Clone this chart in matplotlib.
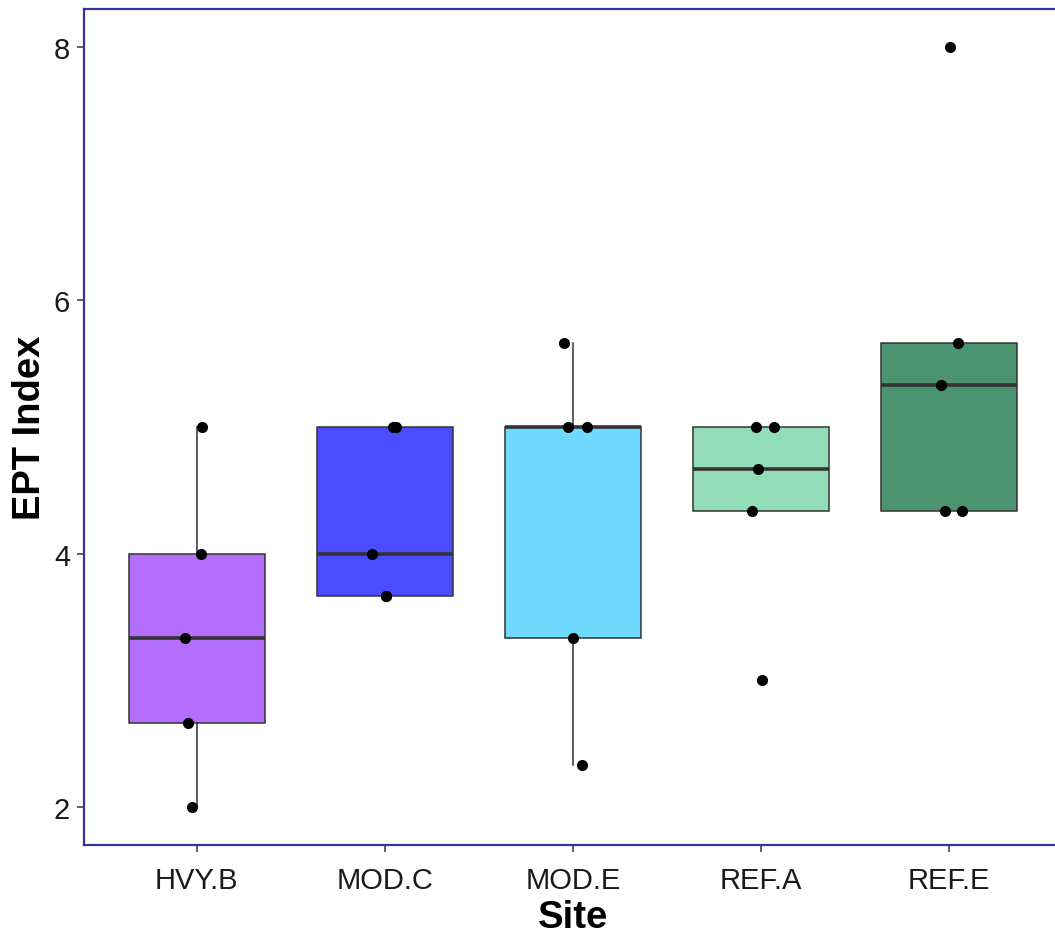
import matplotlib
matplotlib.use("Agg")
import matplotlib.pyplot as plt
import numpy as np

plt.rcParams["font.family"] = ["Liberation Sans", "DejaVu Sans"]

SITES = ["HVY.B", "MOD.C", "MOD.E", "REF.A", "REF.E"]

HVY_B = [5.0, 4.0, 3.333, 2.667, 2.0]
MOD_C = [5.0, 5.0, 4.0, 3.667, 3.667]
MOD_E = [5.667, 5.0, 5.0, 3.333, 2.333]
REF_A = [5.0, 5.0, 4.667, 4.333, 3.0]
REF_E = [8.0, 5.667, 5.333, 4.333, 4.333]

# horizontal jitter, one per point
JITTER_HVY_B = [0.027, 0.021, -0.064, -0.048, -0.027]
JITTER_MOD_C = [0.043, 0.059, -0.069, 0.005, 0.005]
JITTER_MOD_E = [-0.048, -0.027, 0.074, 0.0, 0.048]
JITTER_REF_A = [-0.027, 0.069, -0.016, -0.048, 0.005]
JITTER_REF_E = [0.005, 0.048, -0.043, -0.021, 0.069]

FILLS = ["#B46EFE", "#4B4BFF", "#6FD9FF", "#93DCB8", "#4C936F"]


def main() -> None:
    values = [HVY_B, MOD_C, MOD_E, REF_A, REF_E]
    jitters = [JITTER_HVY_B, JITTER_MOD_C, JITTER_MOD_E, JITTER_REF_A, JITTER_REF_E]
    pos = np.arange(1, len(SITES) + 1)

    fig = plt.figure(figsize=(10.55, 9.37), dpi=100)
    ax = fig.add_axes([84 / 1055, 91 / 937, 978 / 1055, 836 / 937])

    bp = ax.boxplot(values, positions=pos, widths=0.72, patch_artist=True,
                    showfliers=False, showcaps=False, whis=1.5,
                    boxprops=dict(edgecolor="#333333", linewidth=1.1),
                    whiskerprops=dict(color="#333333", linewidth=1.1),
                    medianprops=dict(color="#333333", linewidth=2.6))
    for patch, c in zip(bp["boxes"], FILLS):
        patch.set_facecolor(c)

    for p, v, j in zip(pos, values, jitters):
        ax.plot(p + np.array(j), v, "o", color="black", markersize=7, zorder=5)

    ax.set_xlim(0.4, 5.6)
    ax.set_ylim(1.7, 8.3)
    ax.set_xticks(pos)
    ax.set_xticklabels(SITES)
    ax.set_yticks([2, 4, 6, 8])
    ax.tick_params(axis="both", labelsize=21, colors="#333333", length=5,
                   width=1.1, labelcolor="#1a1a1a", pad=5)
    ax.tick_params(axis="x", pad=10)

    for s in ax.spines.values():
        s.set_color("#333399")
        s.set_linewidth(1.6)

    ax.set_xlabel("Site", fontsize=27.5, fontweight="bold", labelpad=4)
    ax.set_ylabel("EPT Index", fontsize=27.5, fontweight="bold", labelpad=4)

    fig.savefig("out.png", dpi=100)


if __name__ == "__main__":
    main()
